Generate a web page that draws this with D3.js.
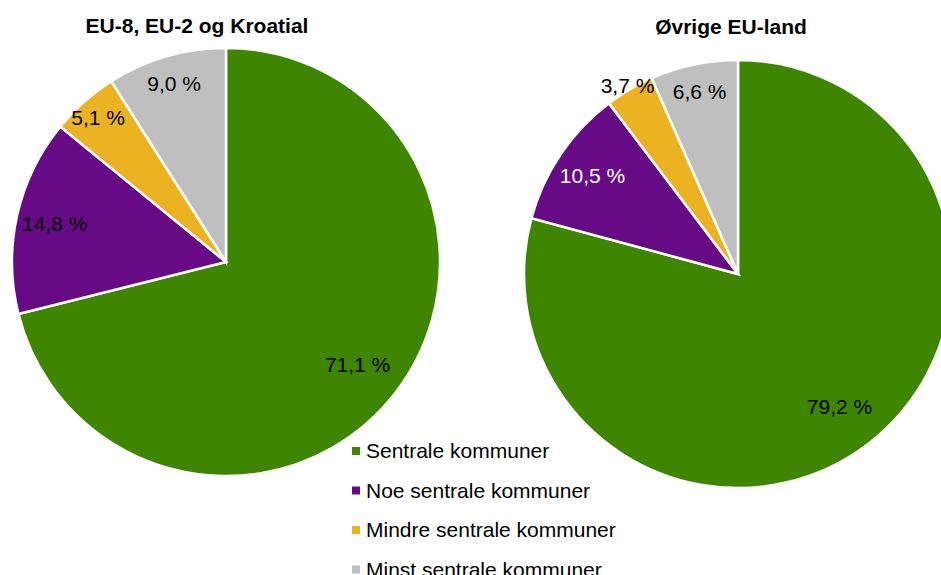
<!DOCTYPE html>
<html>
<head>
<meta charset="utf-8">
<script src="https://cdn.jsdelivr.net/npm/d3@7/dist/d3.min.js"></script>
<style>
  html, body { margin: 0; padding: 0; background: #fff; }
  svg { display: block; font-family: "Liberation Sans", Arial, sans-serif; }
</style>
</head>
<body>
<svg id="chart" width="941" height="575"></svg>
<script>
// ---- data ----
const categories = ["Sentrale kommuner", "Noe sentrale kommuner", "Mindre sentrale kommuner", "Minst sentrale kommuner"];
const pieTitles = ["EU-8, EU-2 og Kroatial", "Øvrige EU-land"];
const valuesEU8 = [71.1, 14.8, 5.1, 9.0];
const valuesOther = [79.2, 10.5, 3.7, 6.6];
const colors = ["#3e8500", "#670a85", "#ebb321", "#bfbfbf"];
const labelColorsEU8 = ["#000", "#000", "#000", "#000"];
const labelColorsOther = ["#000", "#fff", "#000", "#000"];

const svg = d3.select("#chart");
const fmt = v => d3.format(".1f")(v).replace(".", ",") + " %";

const pies = [
  { title: pieTitles[0], values: valuesEU8, labelColors: labelColorsEU8, cx: 226, cy: 262, r: 214, titleX: 197, titleY: 33 },
  { title: pieTitles[1], values: valuesOther, labelColors: labelColorsOther, cx: 738, cy: 274, r: 214, titleX: 731, titleY: 34 }
];

const pieGen = d3.pie().sort(null).value(d => d.value);

pies.forEach(p => {
  const data = categories.map((c, i) => ({ cat: c, value: p.values[i], color: colors[i], lc: p.labelColors[i] }));
  const total = d3.sum(data, d => d.value);
  const arcs = pieGen(data);
  const arc = d3.arc().innerRadius(0).outerRadius(p.r);
  const g = svg.append("g").attr("transform", `translate(${p.cx},${p.cy})`);
  g.selectAll("path").data(arcs).enter().append("path")
    .attr("d", arc)
    .attr("fill", d => d.data.color)
    .attr("stroke", "#fff")
    .attr("stroke-width", 2.5)
    .attr("stroke-linejoin", "miter");
  g.selectAll("text.lbl").data(arcs).enter().append("text")
    .attr("class", "lbl")
    .attr("transform", d => {
      const frac = d.data.value / total;
      const k = frac < 0.04 ? 1.02 : frac < 0.06 ? 0.9 : frac < 0.1 ? 0.87 : frac < 0.2 ? 0.82 : 0.78;
      const a = (d.startAngle + d.endAngle) / 2;
      return `translate(${Math.sin(a) * p.r * k},${-Math.cos(a) * p.r * k})`;
    })
    .attr("text-anchor", "middle")
    .attr("dy", "0.35em")
    .attr("font-size", 21)
    .attr("fill", d => d.data.lc)
    .text(d => fmt(d.data.value));
  svg.append("text")
    .attr("x", p.titleX).attr("y", p.titleY)
    .attr("text-anchor", "middle")
    .attr("font-size", 21)
    .attr("font-weight", "bold")
    .attr("fill", "#000")
    .text(p.title);
});

// legend
const legend = svg.append("g").attr("transform", "translate(352,451)");
const rows = legend.selectAll("g").data(categories).enter().append("g")
  .attr("transform", (d, i) => `translate(0,${i * 39.5})`);
rows.append("rect").attr("x", 0).attr("y", -4).attr("width", 8).attr("height", 8)
  .attr("fill", (d, i) => colors[i]);
rows.append("text").attr("x", 14).attr("y", 0).attr("dy", "0.35em")
  .attr("font-size", 21).attr("fill", "#000").text(d => d);
</script>
</body>
</html>
